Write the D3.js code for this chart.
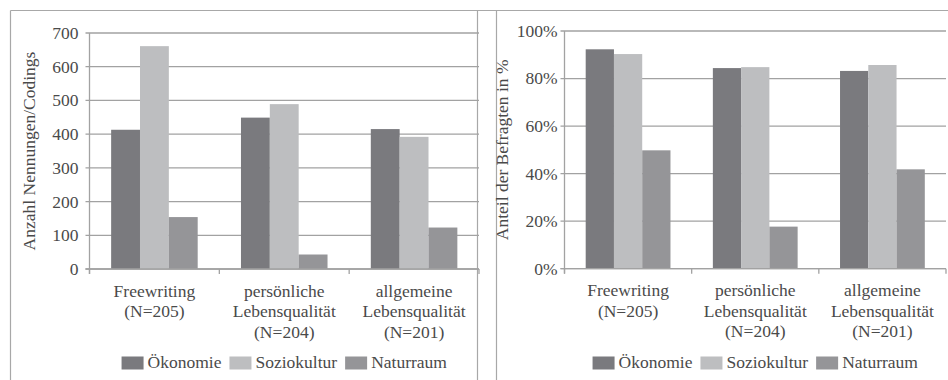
<!DOCTYPE html>
<html>
<head>
<meta charset="utf-8">
<script src="https://cdn.jsdelivr.net/npm/d3@7/dist/d3.min.js"></script>
<style>
  html, body { margin: 0; padding: 0; background: #fff; }
  svg { display: block; }
</style>
</head>
<body>
<svg id="chart" width="948" height="380"></svg>
<script>
// Categories (multi-line labels) and series
const categories = [
  ["Freewriting", "(N=205)"],
  ["persönliche", "Lebensqualität", "(N=204)"],
  ["allgemeine", "Lebensqualität", "(N=201)"]
];
const seriesNames = ["Ökonomie", "Soziokultur", "Naturraum"];
const seriesColors = ["#7a7a7e", "#bdbec0", "#959598"];

// Left: number of mentions/codings per category
const countsOekonomie   = [413, 449, 415];
const countsSoziokultur = [661, 489, 392];
const countsNaturraum   = [154, 43, 123];
const countTicks = [0, 100, 200, 300, 400, 500, 600, 700];

// Right: share of respondents in %
const pctOekonomie   = [92.3, 84.4, 83.2];
const pctSoziokultur = [90.3, 84.8, 85.7];
const pctNaturraum   = [49.8, 17.7, 41.8];
const pctTicks = [0, 20, 40, 60, 80, 100];

const FONT = "Liberation Serif";
const FS = 17.5;
const TEXT_COLOR = "#4a4a4a";
const gridColor = "#a2a2a2";

const svg = d3.select("#chart")
  .attr("font-family", FONT)
  .attr("fill", TEXT_COLOR);

function txt(sel) {
  return sel.append("text").attr("font-family", FONT).attr("font-size", FS).attr("fill", TEXT_COLOR);
}

// panel frames
const frame = svg.append("g").attr("stroke", "#a8a8a8").attr("stroke-width", 1.2).attr("fill", "none");
frame.append("line").attr("x1", 10.5).attr("x2", 948).attr("y1", 10.5).attr("y2", 10.5);
[10.5, 477.5, 496.5].forEach(x =>
  frame.append("line").attr("x1", x).attr("x2", x).attr("y1", 10.5).attr("y2", 380));

function drawPanel(opt) {
  const g = svg.append("g");
  const y = d3.scaleLinear().domain(opt.domain).range([opt.bottom, opt.top]);
  const x0 = d3.scaleBand().domain(d3.range(categories.length)).range([opt.left, opt.right]).padding(0);
  const bw = x0.bandwidth();
  const x1 = d3.scaleBand().domain(d3.range(seriesNames.length)).range([bw / 6, bw * 5 / 6]).padding(0);

  // gridlines
  g.append("g").selectAll("line").data(opt.ticks).join("line")
    .attr("x1", opt.left - 4).attr("x2", opt.right)
    .attr("y1", d => y(d)).attr("y2", d => y(d))
    .attr("stroke", gridColor).attr("stroke-width", 1.3);

  // y tick labels
  opt.ticks.forEach(d => {
    txt(g).attr("x", opt.left - opt.labelGap).attr("y", y(d))
      .attr("dy", "0.34em").attr("text-anchor", "end")
      .text(opt.fmt(d));
  });

  // bars
  const values = opt.values;
  const groups = g.append("g").selectAll("g").data(categories.map((c, i) => i)).join("g")
    .attr("transform", i => `translate(${x0(i)},0)`);
  groups.selectAll("rect").data(i => values.map((s, k) => ({ k, v: s[i] }))).join("rect")
    .attr("x", d => x1(d.k)).attr("width", x1.bandwidth())
    .attr("y", d => y(d.v)).attr("height", d => y(0) - y(d.v))
    .attr("fill", d => seriesColors[d.k]);

  // axis lines
  g.append("line").attr("x1", opt.left).attr("x2", opt.left)
    .attr("y1", opt.top).attr("y2", opt.bottom + 5)
    .attr("stroke", gridColor).attr("stroke-width", 1.3);
  g.append("line").attr("x1", opt.left - 4).attr("x2", opt.right)
    .attr("y1", y(0)).attr("y2", y(0))
    .attr("stroke", gridColor).attr("stroke-width", 1.3);
  const bounds = d3.range(categories.length + 1).map(i => i < categories.length ? x0(i) : opt.right);
  g.append("g").selectAll("line").data(bounds).join("line")
    .attr("x1", d => d).attr("x2", d => d)
    .attr("y1", y(0)).attr("y2", y(0) + 5)
    .attr("stroke", gridColor).attr("stroke-width", 1.3);

  // category labels
  categories.forEach((c, i) => {
    const t = txt(g).attr("text-anchor", "middle")
      .attr("transform", `translate(${x0(i) + bw / 2},${opt.bottom + 27.5})`);
    c.forEach((line, j) => t.append("tspan").attr("x", 0).attr("y", j * 20.5).text(line));
  });

  // y axis title
  txt(g)
    .attr("transform", `translate(${opt.titleX},${(opt.top + opt.bottom) / 2}) rotate(-90)`)
    .attr("text-anchor", "middle")
    .text(opt.title);

  // legend
  const leg = g.append("g");
  let cx = 0;
  seriesNames.forEach((name, k) => {
    const it = leg.append("g").attr("transform", `translate(${cx},0)`);
    it.append("rect").attr("x", 0).attr("y", -11).attr("width", 22).attr("height", 13)
      .attr("fill", seriesColors[k]);
    const t = txt(it).attr("x", 26).attr("y", 0).text(name);
    cx += 26 + t.node().getComputedTextLength() + 8;
  });
  const total = cx - 8;
  leg.attr("transform", `translate(${(opt.left + opt.right) / 2 - total / 2},${opt.legendY})`);
}

drawPanel({
  left: 89.5, right: 479, top: 33, bottom: 269,
  domain: [0, 700], ticks: countTicks, fmt: d => String(d), labelGap: 11,
  values: [countsOekonomie, countsSoziokultur, countsNaturraum],
  title: "Anzahl Nennungen/Codings", titleX: 35, legendY: 367.5
});

drawPanel({
  left: 564.5, right: 946, top: 31, bottom: 268.7,
  domain: [0, 100], ticks: pctTicks, fmt: d => d + "%", labelGap: 7,
  values: [pctOekonomie, pctSoziokultur, pctNaturraum],
  title: "Anteil der Befragten in %", titleX: 508, legendY: 367.5
});
</script>
</body>
</html>
